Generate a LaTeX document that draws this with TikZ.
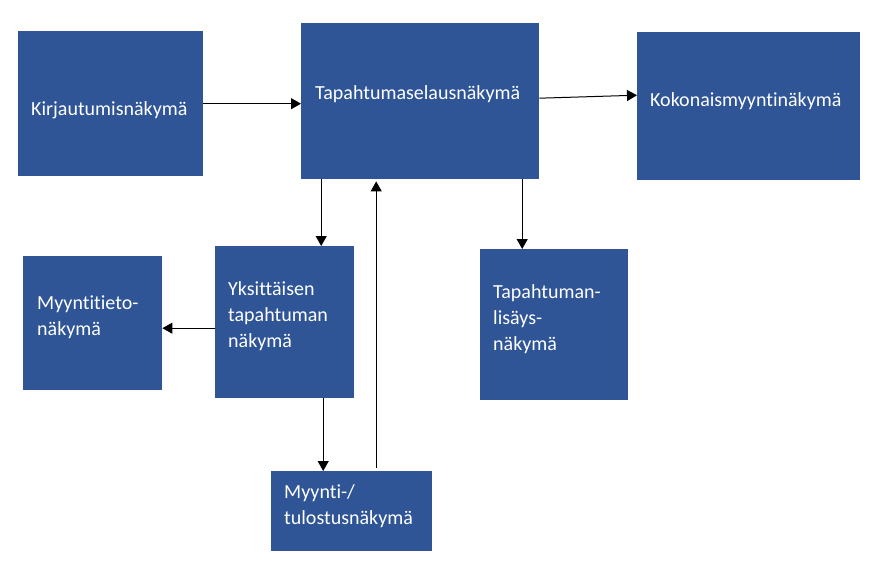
\documentclass[tikz,border=0pt]{standalone}
\usepackage{fontspec}
\usepackage{tikz}
\usetikzlibrary{arrows.meta}
\newfontfamily\viewfont[Ligatures=NoCommon]{Carlito}
\definecolor{viewblue}{RGB}{47,85,151}
\tikzset{
  box/.style={fill=viewblue, inner sep=0pt, anchor=north west},
  txt/.style={text=white, anchor=base west, align=left, inner sep=0pt,
    font=\viewfont\fontsize{20}{26}\selectfont},
  arr/.style={line width=1pt, -{Triangle[length=10pt,width=11pt]}}
}

\begin{document}
\begin{tikzpicture}[x=1pt,y=-1pt]
\useasboundingbox (0,0) rectangle (884,575);
% boxes
\node[box, minimum width=185pt, minimum height=145pt] at (18,31) (kirj) {};
\node[box, minimum width=238pt, minimum height=156pt] at (301,23) (tapaht) {};
\node[box, minimum width=223pt, minimum height=148pt] at (637,32) (koko) {};
\node[box, minimum width=139pt, minimum height=134pt] at (23,256) (tieto) {};
\node[box, minimum width=139pt, minimum height=152pt] at (215,246) (yksi) {};
\node[box, minimum width=148pt, minimum height=151pt] at (480,249) (lisays) {};
\node[box, minimum width=161pt, minimum height=80pt] at (271,471) (myynti) {};
% texts (base = last line)
\node[txt] at (31,116) (kirjt) {Kirjautumisnäkymä};
\node[txt] at (315,100) (tapahtt) {Tapahtumaselausnäkymä};
\node[txt] at (650,107) (kokot) {Kokonaismyyntinäkymä};
\node[txt] at (37,335) (tietot) {Myyntitieto-\\näkymä};
\node[txt] at (228,347) (yksit) {Yksittäisen\\tapahtuman\\näkymä};
\node[txt] at (493,350) (lisayst) {Tapahtuman-\\lisäys-\\näkymä};
\node[txt] at (284,524) (myyntit) {Myynti-/\\tulostusnäkymä};
% arrows
\draw[arr] (kirj.east) -- (kirj.east -| tapaht.west);
\draw[arr] ([yshift=3pt]tapaht.east) -- ([yshift=11pt]koko.west);
\draw[arr] ([xshift=-99pt]tapaht.south) -- ([xshift=36.5pt]yksi.north);
\draw[arr] ([xshift=102pt]tapaht.south) -- ([xshift=-32pt]lisays.north);
\draw[arr] ([yshift=-6pt]yksi.west) -- ([yshift=-6pt]yksi.west -| tieto.east);
\draw[arr] ([xshift=38.5pt]yksi.south) -- ([xshift=-28.5pt]myynti.north);
\draw[arr] ([xshift=24.5pt,yshift=3pt]myynti.north) -- ([xshift=-44pt,yshift=-2pt]tapaht.south);
\end{tikzpicture}
\end{document}
